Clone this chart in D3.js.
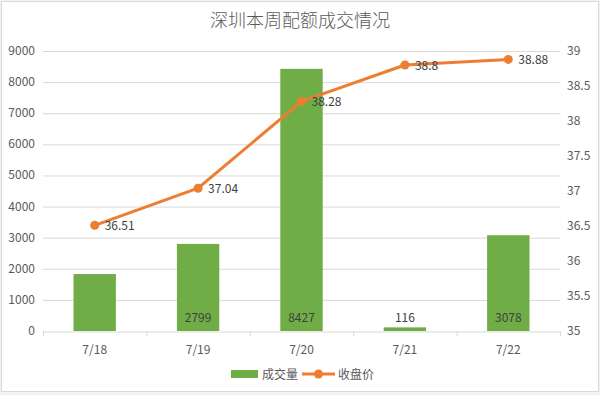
<!DOCTYPE html>
<html>
<head>
<meta charset="utf-8">
<script src="https://cdn.jsdelivr.net/npm/d3@7"></script>
<style>
  body { margin: 0; background: #f2f2f2; }
  svg { display: block; }
  text { font-family: "Noto Sans CJK SC", "Open Sans", sans-serif; }
</style>
</head>
<body>
<svg id="chart" width="600" height="395"></svg>
<script>
var dates = ["7/18", "7/19", "7/20", "7/21", "7/22"];
var volume = [1830, 2799, 8427, 116, 3078];
var price = [36.51, 37.04, 38.28, 38.8, 38.88];
var leftTicks = [0, 1000, 2000, 3000, 4000, 5000, 6000, 7000, 8000, 9000];
var rightTicks = [35, 35.5, 36, 36.5, 37, 37.5, 38, 38.5, 39];
var showBarLabel = [false, true, true, true, true];

var margin = { top: 51, right: 40, bottom: 64, left: 43 };
var svg = d3.select("#chart");
var innerW = 560 - margin.left;
var innerH = 331 - margin.top;

// background card
svg.append("rect")
  .attr("x", 1.5).attr("y", 1.5)
  .attr("width", 597).attr("height", 390)
  .attr("fill", "#fff")
  .attr("stroke", "#d9d9d9");

svg.append("text")
  .attr("x", 300).attr("y", 27)
  .attr("text-anchor", "middle")
  .attr("font-size", 18)
  .attr("font-weight", 300)
  .attr("fill", "#595959")
  .text("深圳本周配额成交情况");

var g = svg.append("g").attr("transform", "translate(" + margin.left + "," + margin.top + ")");

var x = d3.scaleBand().domain(dates).range([0, innerW]).paddingInner(0.59).paddingOuter(0.295);
var yL = d3.scaleLinear().domain([0, 9000]).range([innerH, 0]);
var yR = d3.scaleLinear().domain([35, 39]).range([innerH, 0]);

// gridlines
g.selectAll(".grid")
  .data(leftTicks.slice(1))
  .enter().append("line")
  .attr("x1", 0).attr("x2", innerW)
  .attr("y1", function (d) { return yL(d) + 0.5; })
  .attr("y2", function (d) { return yL(d) + 0.5; })
  .attr("stroke", "#d9d9d9");

// left axis labels
g.selectAll(".lt")
  .data(leftTicks)
  .enter().append("text")
  .attr("x", -8).attr("y", function (d) { return yL(d) + 4; })
  .attr("text-anchor", "end")
  .attr("font-size", 12)
  .attr("fill", "#595959")
  .text(function (d) { return d; });

// right axis labels
g.selectAll(".rt")
  .data(rightTicks)
  .enter().append("text")
  .attr("x", innerW + 7).attr("y", function (d) { return yR(d) + 4; })
  .attr("font-size", 12)
  .attr("fill", "#595959")
  .text(function (d) { return d; });

// bars
g.selectAll(".bar")
  .data(volume)
  .enter().append("rect")
  .attr("x", function (d, i) { return x(dates[i]); })
  .attr("y", function (d) { return yL(d); })
  .attr("width", x.bandwidth())
  .attr("height", function (d) { return innerH - yL(d); })
  .attr("fill", "#70ad47");

// x axis
var xAxis = d3.axisBottom(x).tickSize(0).tickPadding(14);
var ax = g.append("g").attr("transform", "translate(0," + (innerH + 0.5) + ")").call(xAxis);
ax.select(".domain").attr("stroke", "#d9d9d9");
ax.selectAll("text").attr("font-size", 12).attr("fill", "#595959")
  .style("font-family", "'Noto Sans CJK SC', sans-serif");
var step = x.step();
g.selectAll(".xt")
  .data(d3.range(dates.length + 1))
  .enter().append("line")
  .attr("x1", function (i) { return i * step + 0.5; })
  .attr("x2", function (i) { return i * step + 0.5; })
  .attr("y1", innerH).attr("y2", innerH + 5)
  .attr("stroke", "#d9d9d9");

// bar labels
g.selectAll(".bl")
  .data(volume)
  .enter().append("text")
  .attr("x", function (d, i) { return x(dates[i]) + x.bandwidth() / 2; })
  .attr("y", innerH - 9)
  .attr("text-anchor", "middle")
  .attr("font-size", 12)
  .attr("fill", "#404040")
  .text(function (d, i) { return showBarLabel[i] ? d : ""; });

// line
var line = d3.line()
  .x(function (d, i) { return x(dates[i]) + x.bandwidth() / 2; })
  .y(function (d) { return yR(d); });

g.append("path")
  .datum(price)
  .attr("d", line)
  .attr("fill", "none")
  .attr("stroke", "#ed7d31")
  .attr("stroke-width", 3)
  .attr("stroke-linejoin", "round");

g.selectAll(".pt")
  .data(price)
  .enter().append("circle")
  .attr("cx", function (d, i) { return x(dates[i]) + x.bandwidth() / 2; })
  .attr("cy", function (d) { return yR(d); })
  .attr("r", 4.5)
  .attr("fill", "#ed7d31");

g.selectAll(".pl")
  .data(price)
  .enter().append("text")
  .attr("x", function (d, i) { return x(dates[i]) + x.bandwidth() / 2 + 10; })
  .attr("y", function (d) { return yR(d) + 5; })
  .attr("font-size", 12)
  .attr("fill", "#404040")
  .text(function (d) { return d; });

// legend
var lg = svg.append("g").attr("transform", "translate(231,374)");
lg.append("rect").attr("x", 0).attr("y", -4).attr("width", 27).attr("height", 8).attr("fill", "#70ad47");
lg.append("text").attr("x", 31).attr("y", 4.5).attr("font-size", 12).attr("fill", "#595959").text("成交量");
lg.append("line").attr("x1", 71).attr("x2", 104).attr("y1", 0).attr("y2", 0)
  .attr("stroke", "#ed7d31").attr("stroke-width", 3);
lg.append("circle").attr("cx", 87.5).attr("cy", 0).attr("r", 4.5).attr("fill", "#ed7d31");
lg.append("text").attr("x", 107).attr("y", 4.5).attr("font-size", 12).attr("fill", "#595959").text("收盘价");
</script>
</body>
</html>
